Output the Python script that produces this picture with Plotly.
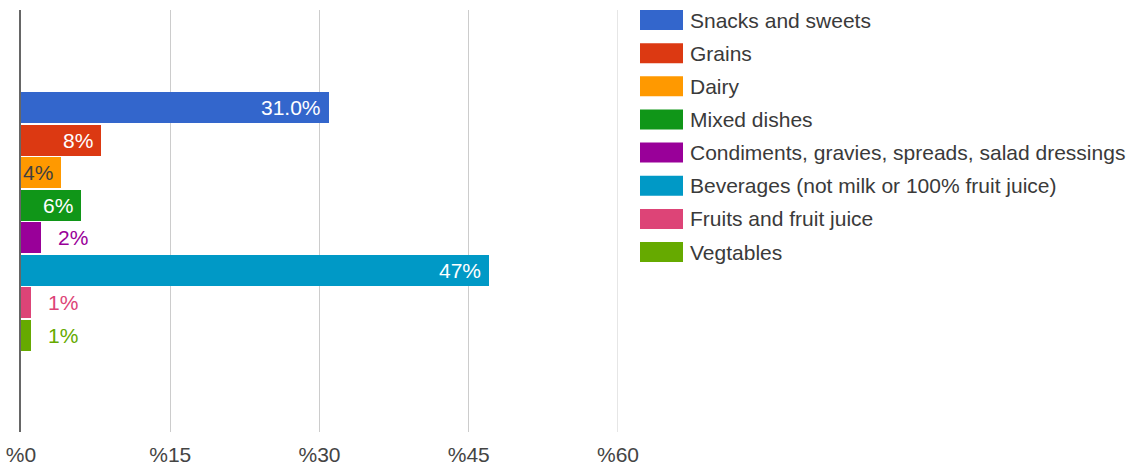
import plotly.graph_objects as go

# Share of added sugars intake by food category
categories = [
    "Snacks and sweets",
    "Grains",
    "Dairy",
    "Mixed dishes",
    "Condiments, gravies, spreads, salad dressings",
    "Beverages (not milk or 100% fruit juice)",
    "Fruits and fruit juice",
    "Vegtables",
]
values = [31, 8, 4, 6, 2, 47, 1, 1]
value_labels = ["31.0%", "8%", "4%", "6%", "2%", "47%", "1%", "1%"]
tick_values = [0, 15, 30, 45, 60]
tick_labels = ["%0", "%15", "%30", "%45", "%60"]

colors = ["#3366cc", "#dc3912", "#ff9900", "#109618",
          "#990099", "#0099c6", "#dd4477", "#66aa00"]

W, H = 1136, 468
L, R, T, B = 21, 518, 10, 36
plot_w = W - L - R
plot_h = H - T - B
FONT = "Liberation Sans, Arial, sans-serif"


def px_x(px):
    return (px - L) / plot_w


def px_y(py):
    return 1 - (py - T) / plot_h


idx = list(range(len(categories)))

fig = go.Figure()
fig.add_trace(go.Bar(
    y=idx, x=values, orientation="h", width=0.95,
    marker=dict(color=colors, line=dict(width=0)),
    hovertext=categories, showlegend=False,
))

annotations = []
for i, (v, lab, c) in enumerate(zip(values, value_labels, colors)):
    inside = v >= 3
    if inside:
        tc = "#404040" if c == "#ff9900" else "#ffffff"
        annotations.append(dict(
            x=v, y=i, xref="x", yref="y", text=lab, showarrow=False,
            xanchor="right", yanchor="middle", xshift=-6,
            font=dict(family=FONT, size=21, color=tc)))
    else:
        annotations.append(dict(
            x=v, y=i, xref="x", yref="y", text=lab, showarrow=False,
            xanchor="left", yanchor="middle", xshift=15,
            font=dict(family=FONT, size=21, color=c)))

# Legend drawn as swatches with labels to the right of the plot
shapes = []
row_pitch = 33.15
for i, (name, c) in enumerate(zip(categories, colors)):
    top = 10 + row_pitch * i
    shapes.append(dict(
        type="rect", xref="paper", yref="paper",
        x0=px_x(640), x1=px_x(683), y0=px_y(top + 20), y1=px_y(top),
        fillcolor=c, line=dict(width=0)))
    annotations.append(dict(
        x=px_x(688), y=px_y(top + 10), xref="paper", yref="paper",
        text=name, showarrow=False, xanchor="left", yanchor="middle",
        font=dict(family=FONT, size=21, color="#3a3a3a")))

# Gridline on the right edge of the value axis
shapes.append(dict(
    type="line", xref="x", yref="paper", x0=tick_values[-1], x1=tick_values[-1],
    y0=0, y1=1, line=dict(color="#cccccc", width=1), layer="below"))

fig.update_layout(
    width=W, height=H,
    margin=dict(l=L, r=R, t=T, b=B, pad=0),
    paper_bgcolor="white", plot_bgcolor="white",
    bargap=0,
    xaxis=dict(range=[0, 60], tickvals=tick_values, ticktext=tick_labels,
               showgrid=True, gridcolor="#cccccc", gridwidth=1,
               zeroline=False, showline=False, ticks="",
               automargin=False, ticklabelstandoff=8,
               tickfont=dict(family=FONT, size=21, color="#444444")),
    yaxis=dict(range=[9.96, -2.99], showticklabels=False, showgrid=False,
               zeroline=False, showline=True, linecolor="#666666",
               linewidth=2, ticks="", automargin=False),
    shapes=shapes,
    annotations=annotations,
    showlegend=False,
)

fig.write_html("out.html")
